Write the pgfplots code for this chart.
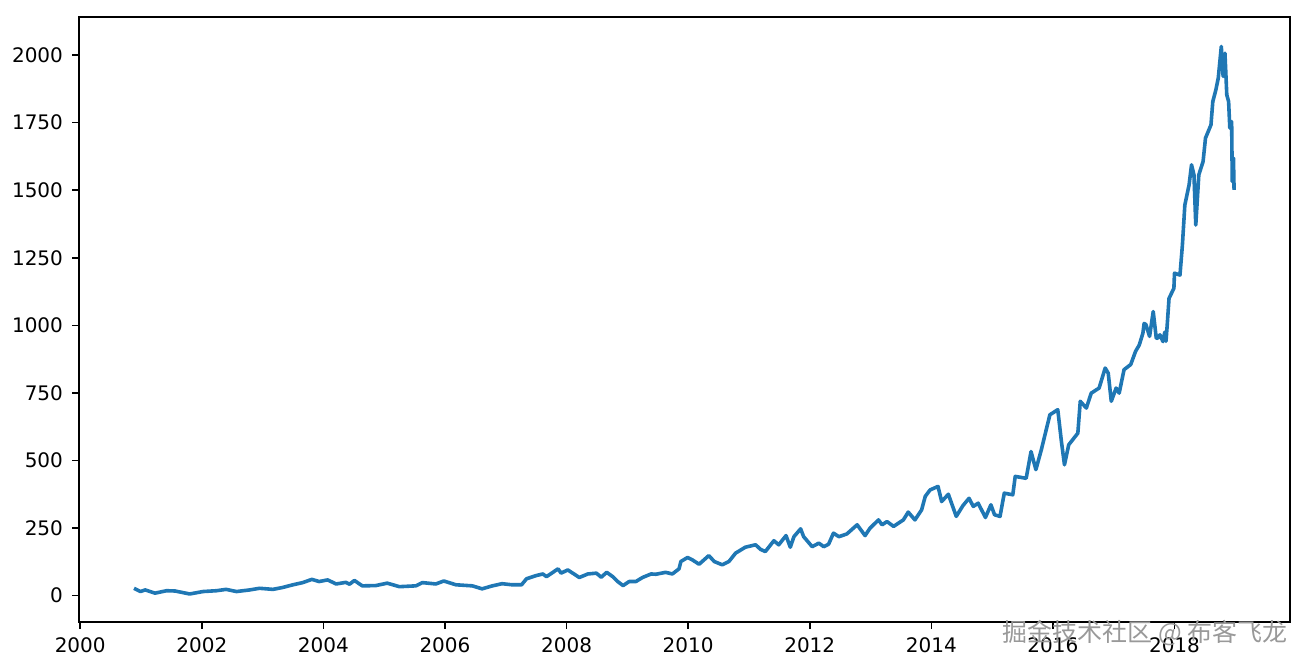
\documentclass[border=0pt]{standalone}
\usepackage{pgfplots}
\pgfplotsset{compat=1.18}
\usepackage{fontspec}
\setmainfont{DejaVu Sans}
\newfontfamily\cjk{Noto Sans CJK SC}
\definecolor{tabblue}{HTML}{1F77B4}
\begin{document}
\begin{tikzpicture}
\begin{axis}[name=ax,
  scale only axis, width=605.5pt, height=302.5pt,
  xmin=1999.98, xmax=2019.9, ymin=-97.7, ymax=2141,
  xtick={2000,2002,...,2018}, ytick={0,250,...,2000},
  /pgf/number format/1000 sep={}, /pgf/number format/assume math mode=true,
  tick align=outside, major tick length=3.5pt, tick pos=left,
  tick style={line width=0.8pt, black}, axis line style={line width=0.8pt},
  ticklabel style={font=\fontsize{10}{12}\selectfont},
  xticklabel style={yshift=-1pt}, yticklabel style={xshift=-1pt},
]
\addplot[tabblue, line width=1.8pt, line join=round] table {
2000.885 27
2000.99 15
2001.07 21
2001.23 9
2001.42 18
2001.56 17
2001.80 6
2002.02 15
2002.24 18
2002.40 23
2002.57 15
2002.79 21
2002.95 27
2003.17 23
2003.33 30
2003.50 40
2003.66 48
2003.81 60
2003.93 52
2004.07 58
2004.21 43
2004.37 49
2004.43 42
2004.51 56
2004.64 36
2004.86 37
2005.05 46
2005.25 33
2005.52 36
2005.63 48
2005.85 43
2005.98 54
2006.18 40
2006.45 36
2006.61 25
2006.78 36
2006.94 44
2007.10 40
2007.26 40
2007.34 62
2007.50 74
2007.61 80
2007.67 70
2007.86 99
2007.91 83
2008.02 95
2008.21 67
2008.35 80
2008.49 83
2008.57 68
2008.66 86
2008.76 70
2008.84 52
2008.93 37
2009.03 52
2009.14 52
2009.25 67
2009.39 80
2009.47 79
2009.63 86
2009.74 80
2009.85 99
2009.88 126
2009.99 141
2010.07 132
2010.18 116
2010.34 148
2010.43 126
2010.56 114
2010.67 126
2010.78 157
2010.94 179
2011.11 188
2011.19 171
2011.27 163
2011.41 203
2011.49 188
2011.61 222
2011.68 179
2011.74 218
2011.85 247
2011.90 218
2012.04 181
2012.15 194
2012.23 181
2012.31 190
2012.39 231
2012.48 218
2012.61 228
2012.78 262
2012.91 222
2012.99 249
2013.13 280
2013.19 262
2013.27 274
2013.38 256
2013.46 268
2013.54 280
2013.62 309
2013.73 280
2013.84 317
2013.90 367
2013.98 391
2014.11 404
2014.17 348
2014.28 375
2014.41 293
2014.52 333
2014.62 360
2014.69 330
2014.77 342
2014.89 289
2014.98 336
2015.04 299
2015.13 293
2015.20 379
2015.34 373
2015.38 441
2015.56 434
2015.64 533
2015.72 466
2015.81 540
2015.95 669
2016.08 688
2016.14 570
2016.19 484
2016.26 558
2016.41 601
2016.45 719
2016.55 694
2016.63 749
2016.76 768
2016.86 842
2016.91 823
2016.96 719
2017.04 768
2017.09 749
2017.17 836
2017.28 855
2017.36 904
2017.42 927
2017.48 971
2017.50 1007
2017.53 1003
2017.59 959
2017.65 1051
2017.70 953
2017.72 952
2017.76 965
2017.81 940
2017.84 975
2017.86 941
2017.88 1001
2017.91 1100
2017.99 1137
2018.00 1193
2018.09 1186
2018.13 1297
2018.17 1445
2018.24 1520
2018.28 1594
2018.32 1557
2018.35 1371
2018.40 1557
2018.47 1606
2018.51 1693
2018.60 1742
2018.63 1828
2018.68 1871
2018.72 1915
2018.77 2032
2018.80 1921
2018.83 2007
2018.86 1853
2018.89 1828
2018.91 1730
2018.94 1754
2018.95 1532
2018.97 1619
2018.98 1501
};
\end{axis}
\path ([shift={(-39.5pt,-22.5pt)}]ax.south west) rectangle ([shift={(8.5pt,8.5pt)}]ax.north east);
\node[anchor=east, text=black!40, font=\cjk\fontsize{12.5}{14}\selectfont, inner sep=0pt] at ([shift={(-1pt,-5.5pt)}]ax.south east) {掘金技术社区 @ 布客飞龙};
\end{tikzpicture}
\end{document}
